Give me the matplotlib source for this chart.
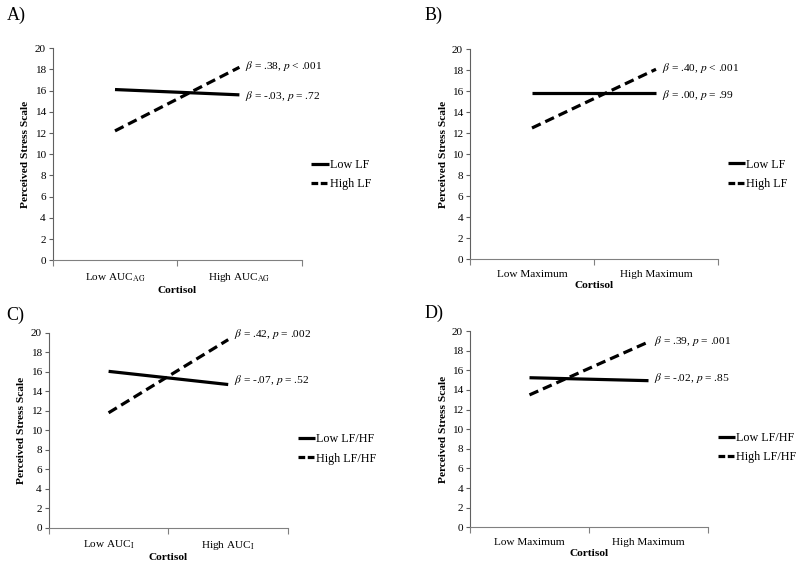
import matplotlib
matplotlib.use('Agg')
import matplotlib.pyplot as plt
from matplotlib.lines import Line2D

plt.rcParams['font.family'] = ['Liberation Serif', 'DejaVu Serif']
plt.rcParams['mathtext.fontset'] = 'stix'

# panel data
panels = ['A)', 'B)', 'C)', 'D)']
xcats = [['Low AUC$_{\\mathrm{AG}}$', 'High AUC$_{\\mathrm{AG}}$'],
         ['Low Maximum', 'High Maximum'],
         ['Low AUC$_{\\mathrm{I}}$', 'High AUC$_{\\mathrm{I}}$'],
         ['Low Maximum', 'High Maximum']]
low_vals = [[16.1, 15.6], [15.8, 15.8], [16.05, 14.7], [15.25, 14.95]]
high_vals = [[12.2, 18.2], [12.5, 18.1], [11.8, 19.3], [13.5, 18.9]]
high_stats = ['$\\beta$ = .38, $p$ < .001', '$\\beta$ = .40, $p$ < .001',
              '$\\beta$ = .42, $p$ = .002', '$\\beta$ = .39, $p$ = .001']
low_stats = ['$\\beta$ = -.03, $p$ = .72', '$\\beta$ = .00, $p$ = .99',
             '$\\beta$ = -.07, $p$ = .52', '$\\beta$ = -.02, $p$ = .85']
legend_names = [['Low LF', 'High LF'], ['Low LF', 'High LF'],
                ['Low LF/HF', 'High LF/HF'], ['Low LF/HF', 'High LF/HF']]
yticks = list(range(0, 21, 2))

# axes boxes in figure fractions
boxes = [[0.066, 0.541, 0.311, 0.374],
         [0.5875, 0.543, 0.310, 0.370],
         [0.061, 0.069, 0.299, 0.344],
         [0.5875, 0.070, 0.2975, 0.346]]
letter_pos = [(0.008, 0.965), (0.531, 0.965), (0.008, 0.436), (0.531, 0.439)]
label_dy = [[1, -1], [1, -1], [4, 3], [1, 2]]

fig = plt.figure(figsize=(8, 5.67), dpi=100)

for i in range(4):
    ax = fig.add_axes(boxes[i])
    xs = [0.5, 1.5]
    ax.plot(xs, low_vals[i], color='black', lw=2.3, solid_capstyle='butt')
    ax.plot(xs, high_vals[i], color='black', lw=2.3, dashes=(3, 1.6),
            dash_capstyle='butt')

    ax.annotate(high_stats[i], (1.5, high_vals[i][1]), xytext=(4, label_dy[i][0]),
                textcoords='offset points', va='center', ha='left', fontsize=8.2)
    ax.annotate(low_stats[i], (1.5, low_vals[i][1]), xytext=(4, label_dy[i][1]),
                textcoords='offset points', va='center', ha='left', fontsize=8.2)

    ax.set_xlim(0, 2)
    ax.set_ylim(0, 20)
    ax.set_yticks(yticks)
    ax.set_xticks([0, 1, 2])
    ax.set_xticklabels([])
    ax.set_xticks(xs, minor=True)
    ax.set_xticklabels(xcats[i], minor=True)
    ax.tick_params(axis='x', which='minor', length=0, labelsize=8.1, pad=8)
    ax.tick_params(axis='x', which='major', length=4, color='#808080', direction='out')
    ax.tick_params(axis='y', length=3, labelsize=8.1, pad=2, color='#606060')
    for s in ['top', 'right']:
        ax.spines[s].set_visible(False)
    ax.spines['bottom'].set_color('#808080')
    ax.spines['left'].set_color('#606060')

    ax.set_ylabel('Perceived Stress Scale', fontsize=8.2, fontweight='bold', labelpad=3)
    ax.set_xlabel('Cortisol', fontsize=8.2, fontweight='bold', labelpad=1)

    handles = [Line2D([], [], color='black', lw=2.3, solid_capstyle='butt'),
               Line2D([], [], color='black', lw=2.3, dashes=(2.1, 0.8),
                      dash_capstyle='butt')]
    ax.legend(handles, legend_names[i], loc='center left',
              bbox_to_anchor=(1.02, 0.405), frameon=False,
              fontsize=8.7, handlelength=1.45, handletextpad=0.05,
              labelspacing=0.6, borderaxespad=0)

    fig.text(letter_pos[i][0], letter_pos[i][1], panels[i], fontsize=13,
             va='baseline', ha='left')

fig.savefig('out.png', dpi=100)
